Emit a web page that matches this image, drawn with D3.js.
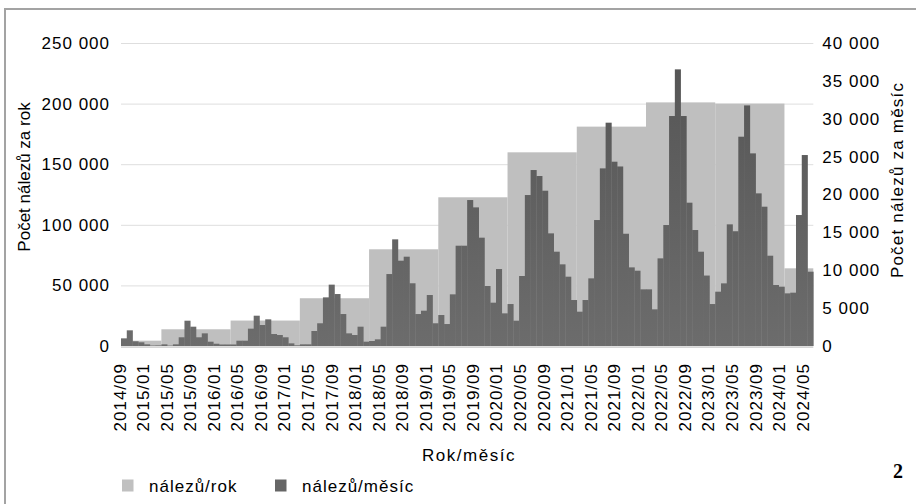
<!DOCTYPE html>
<html>
<head>
<meta charset="utf-8">
<script src="https://cdn.jsdelivr.net/npm/d3@7"></script>
<style>
  body { margin: 0; background: #fff; }
  svg { display: block; font-family: 'Liberation Sans', Arial, sans-serif; }
</style>
</head>
<body>
<div id="chart"></div>
<script>
// yearly totals (left axis)
let years = ['2014', '2015', '2016', '2017', '2018', '2019', '2020', '2021', '2022', '2023', '2024']
let yearlyFinds = [4400, 13800, 21000, 39400, 79800, 122700, 159800, 181000, 201000, 200000, 64100]

// monthly counts 2014/06 - 2024/05 (right axis)
let monthlyFinds = [
  1010, 2070, 620, 490, 220, 60, 80,
  220, 50, 220, 1150, 3340, 2550, 1150, 1670, 570, 300, 200, 200,
  200, 700, 700, 2290, 4000, 2770, 3520, 1580, 1450, 1150, 350, 90,
  220, 220, 1980, 3000, 6420, 8100, 6860, 4220, 1670, 1450, 2550, 570,
  660, 880, 2550, 9500, 14080, 11260, 11790, 8280, 4220, 4660, 6730, 3000,
  4090, 2900, 6820, 13240, 13240, 19270, 18300, 14300, 7920, 5720, 10160, 4310,
  5540, 3340, 9240, 19930, 23230, 22440, 20500, 14870, 12450, 10780, 9150, 6070,
  4530, 6070, 8930, 16630, 23450, 29480, 24330, 23700, 14820, 10380, 9940, 7480,
  7480, 4840, 11570, 15970, 30360, 36520, 30360, 18920, 15310, 12450, 9300, 5540,
  7170, 8270, 16060, 15150, 27630, 31760, 25430, 20150, 18390, 11920, 8050, 7830,
  6950, 7040, 17290, 25210, 9810
]

let tickLabels = [
  '2014/09', '2015/01', '2015/05', '2015/09', '2016/01', '2016/05', '2016/09',
  '2017/01', '2017/05', '2017/09', '2018/01', '2018/05', '2018/09', '2019/01',
  '2019/05', '2019/09', '2020/01', '2020/05', '2020/09', '2021/01', '2021/05',
  '2021/09', '2022/01', '2022/05', '2022/09', '2023/01', '2023/05', '2023/09',
  '2024/01', '2024/05'
]

let leftTicks = [0, 50000, 100000, 150000, 200000, 250000]
let rightTicks = [0, 5000, 10000, 15000, 20000, 25000, 30000, 35000, 40000]

let width = 916
let height = 504
let plot = { left: 121, right: 813.3, top: 43, bottom: 346 }

let monthFmt = d3.timeFormat('%Y/%m')
let months = d3.timeMonth.range(new Date(2014, 5, 1), new Date(2024, 5, 1))
let monthly = months.map((m, i) => ({ month: m, key: monthFmt(m), value: monthlyFinds[i] }))

let numFmt = d3.formatLocale({ decimal: ',', thousands: '\u00a0', grouping: [3], currency: ['', ''] }).format(',d')

let svg = d3.select('#chart')
  .append('svg')
  .attr('width', width)
  .attr('height', height)

let x = d3.scaleBand()
  .domain(monthly.map(d => d.key))
  .range([plot.left, plot.right])
  .padding(0)

// the printed month labels sit on their own evenly spaced axis
let xLabels = d3.scalePoint()
  .domain(tickLabels)
  .range([119, 802])

let yLeft = d3.scaleLinear().domain([0, 250000]).range([plot.bottom, plot.top])
let yRight = d3.scaleLinear().domain([0, 40000]).range([plot.bottom, plot.top])

// frame
svg.append('path')
  .attr('d', `M5,${height} V9 H${width}`)
  .attr('fill', 'none')
  .attr('stroke', '#a3a3a3')
  .attr('stroke-width', 2)

let defs = svg.append('defs')
let grad = defs.append('linearGradient')
  .attr('id', 'darkfill')
  .attr('gradientUnits', 'userSpaceOnUse')
  .attr('x1', 0).attr('x2', 0)
  .attr('y1', plot.top).attr('y2', plot.bottom)
grad.append('stop').attr('offset', '0%').attr('stop-color', '#545454')
grad.append('stop').attr('offset', '100%').attr('stop-color', '#6c6c6c')

// gridlines
svg.append('g')
  .attr('class', 'grid')
  .attr('transform', `translate(${plot.left},0)`)
  .call(d3.axisLeft(yLeft).tickValues(leftTicks).tickSize(-(plot.right - plot.left)).tickFormat(''))
  .call(g => g.select('.domain').remove())
  .call(g => g.selectAll('line').attr('stroke', '#dedede'))

// yearly totals as steps
svg.append('g')
  .selectAll('rect')
  .data(years)
  .enter()
  .append('rect')
  .attr('x', yr => x(monthly.find(d => d.month.getFullYear() == yr).key))
  .attr('width', yr => monthly.filter(d => d.month.getFullYear() == yr).length * x.bandwidth())
  .attr('y', (yr, i) => yLeft(yearlyFinds[i]))
  .attr('height', (yr, i) => plot.bottom - yLeft(yearlyFinds[i]))
  .attr('fill', '#bfbfbf')

// monthly bars
svg.append('g')
  .selectAll('rect')
  .data(monthly)
  .enter()
  .append('rect')
  .attr('x', d => x(d.key))
  .attr('width', x.bandwidth() + 0.3)
  .attr('y', d => yRight(d.value))
  .attr('height', d => plot.bottom - yRight(d.value))
  .attr('fill', 'url(#darkfill)')

// baseline
svg.append('line')
  .attr('x1', plot.left).attr('x2', plot.right)
  .attr('y1', plot.bottom + 1.5).attr('y2', plot.bottom + 1.5)
  .attr('stroke', '#d6d6d6')

// left axis
svg.append('g')
  .attr('transform', `translate(${plot.left},0)`)
  .call(d3.axisLeft(yLeft).tickValues(leftTicks).tickSize(0).tickPadding(11).tickFormat(numFmt))
  .call(g => g.select('.domain').remove())
  .selectAll('text')
  .attr('font-size', 17)
  .attr('letter-spacing', 1)
  .attr('fill', '#000')

// right axis
svg.append('g')
  .attr('transform', `translate(${plot.right},0)`)
  .call(d3.axisRight(yRight).tickValues(rightTicks).tickSize(0).tickPadding(9).tickFormat(numFmt))
  .call(g => g.select('.domain').remove())
  .selectAll('text')
  .attr('font-size', 17)
  .attr('letter-spacing', 1)
  .attr('fill', '#000')

// bottom axis labels
svg.append('g')
  .attr('transform', `translate(0,${plot.bottom})`)
  .call(d3.axisBottom(xLabels).tickSize(0))
  .call(g => g.select('.domain').remove())
  .selectAll('text')
  .attr('transform', 'rotate(-90)')
  .attr('text-anchor', 'end')
  .attr('x', -17)
  .attr('y', 0)
  .attr('dy', '0.36em')
  .attr('font-size', 17)
  .attr('letter-spacing', 1)
  .attr('fill', '#000')

// axis titles
svg.append('text')
  .attr('transform', 'translate(30,177) rotate(-90)')
  .attr('text-anchor', 'middle')
  .attr('font-size', 17)
  .attr('fill', '#000')
  .text('Počet nálezů za rok')

svg.append('text')
  .attr('transform', 'translate(903,180) rotate(-90)')
  .attr('text-anchor', 'middle')
  .attr('font-size', 17)
  .attr('letter-spacing', 1.2)
  .attr('fill', '#000')
  .text('Počet nálezů za měsíc')

svg.append('text')
  .attr('x', 469)
  .attr('y', 461)
  .attr('text-anchor', 'middle')
  .attr('font-size', 17)
  .attr('letter-spacing', 1.5)
  .attr('fill', '#000')
  .text('Rok/měsíc')

// legend
let legendColors = ['#c0c0c0', '#666666']
let legendLabels = ['nálezů/rok', 'nálezů/měsíc']
let legendX = d3.scaleOrdinal().domain(legendLabels).range([122, 275])

let legend = svg.append('g')
legend.selectAll('g')
  .data(legendLabels)
  .enter().append('g')
  .attr('transform', d => `translate(${legendX(d)},479.5)`)
  .each(function(d, i) {
    let group = d3.select(this)
    group.append('rect').attr('width', 11.5).attr('height', 12).attr('fill', legendColors[i])
    group.append('text')
      .text(d)
      .attr('x', 27)
      .attr('y', 12)
      .attr('font-size', 17)
      .attr('letter-spacing', 1)
      .attr('fill', '#000')
  })

svg.append('text')
  .attr('x', 898)
  .attr('y', 478)
  .attr('text-anchor', 'middle')
  .attr('font-family', "'Liberation Serif', 'DejaVu Serif', serif")
  .attr('font-weight', 'bold')
  .attr('font-size', 20)
  .text('2')
</script>
</body>
</html>
